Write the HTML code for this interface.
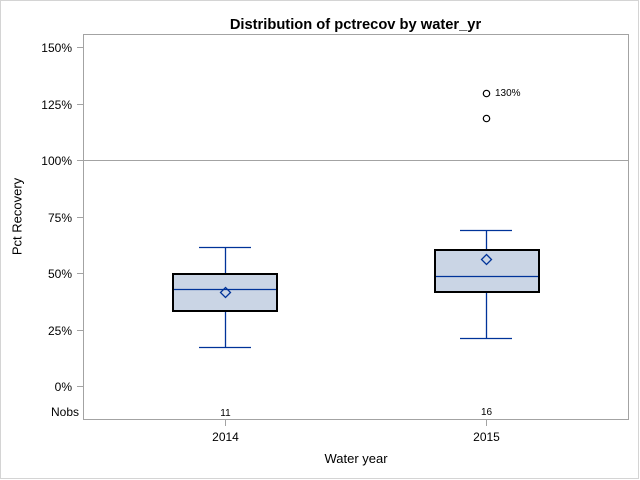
<!DOCTYPE html>
<html>
<head>
<meta charset="utf-8">
<style>
html,body{margin:0;padding:0;background:#fff;}
svg{display:block;}
text{font-family:"Liberation Sans",Arial,sans-serif;fill:#000;}
</style>
</head>
<body>
<svg width="640" height="480" viewBox="0 0 640 480" xmlns="http://www.w3.org/2000/svg">
  <rect x="0" y="0" width="640" height="480" fill="#fff"/>
  <rect x="0.5" y="0.5" width="638" height="478" fill="none" stroke="#d4d4d4" stroke-width="1"/>

  <!-- Title -->
  <text x="355.5" y="29" text-anchor="middle" font-size="14.7" font-weight="bold">Distribution of pctrecov by water_yr</text>

  <!-- Plot frame -->
  <rect x="83.5" y="34.5" width="545" height="385" fill="none" stroke="#a3a3a3" stroke-width="1"/>

  <!-- Reference line 100% -->
  <line x1="84" y1="160.5" x2="628" y2="160.5" stroke="#a3a3a3" stroke-width="1"/>

  <!-- Y ticks -->
  <g stroke="#a3a3a3" stroke-width="1">
    <line x1="77" y1="47.5" x2="83" y2="47.5"/>
    <line x1="77" y1="104.5" x2="83" y2="104.5"/>
    <line x1="77" y1="160.5" x2="83" y2="160.5"/>
    <line x1="77" y1="217.5" x2="83" y2="217.5"/>
    <line x1="77" y1="273.5" x2="83" y2="273.5"/>
    <line x1="77" y1="330.5" x2="83" y2="330.5"/>
    <line x1="77" y1="386.5" x2="83" y2="386.5"/>
  </g>
  <g font-size="12" text-anchor="end">
    <text x="72" y="52">150%</text>
    <text x="72" y="109">125%</text>
    <text x="72" y="165">100%</text>
    <text x="72" y="222">75%</text>
    <text x="72" y="278">50%</text>
    <text x="72" y="335">25%</text>
    <text x="72" y="391">0%</text>
    <text x="79" y="416">Nobs</text>
  </g>

  <!-- Y axis label -->
  <text transform="translate(21.5,216.5) rotate(-90)" text-anchor="middle" font-size="13">Pct Recovery</text>

  <!-- X ticks -->
  <g stroke="#a3a3a3" stroke-width="1">
    <line x1="225.5" y1="420" x2="225.5" y2="426"/>
    <line x1="486.5" y1="420" x2="486.5" y2="426"/>
  </g>
  <g font-size="12" text-anchor="middle">
    <text x="225.5" y="441">2014</text>
    <text x="486.5" y="441">2015</text>
  </g>
  <text x="356" y="463" text-anchor="middle" font-size="13">Water year</text>

  <!-- Nobs values -->
  <g font-size="10" text-anchor="middle">
    <text x="225.5" y="416">11</text>
    <text x="486.5" y="415">16</text>
  </g>

  <!-- 2014 box -->
  <g stroke="#003399" stroke-width="1.3" fill="none">
    <line x1="225.5" y1="247.5" x2="225.5" y2="273"/>
    <line x1="225.5" y1="311" x2="225.5" y2="347.5"/>
    <line x1="199" y1="247.5" x2="251" y2="247.5"/>
    <line x1="199" y1="347.5" x2="251" y2="347.5"/>
  </g>
  <rect x="173" y="274" width="104" height="37" fill="#cad5e5" stroke="#000" stroke-width="2"/>
  <line x1="174" y1="289.5" x2="276" y2="289.5" stroke="#003399" stroke-width="1.3"/>
  <path d="M225.5 287.5 L230.5 292.5 L225.5 297.5 L220.5 292.5 Z" fill="none" stroke="#003399" stroke-width="1.3"/>

  <!-- 2015 box -->
  <g stroke="#003399" stroke-width="1.3" fill="none">
    <line x1="486.5" y1="230.5" x2="486.5" y2="249"/>
    <line x1="486.5" y1="292" x2="486.5" y2="338.5"/>
    <line x1="460" y1="230.5" x2="512" y2="230.5"/>
    <line x1="460" y1="338.5" x2="512" y2="338.5"/>
  </g>
  <rect x="435" y="250" width="104" height="42" fill="#cad5e5" stroke="#000" stroke-width="2"/>
  <line x1="436" y1="276.5" x2="538" y2="276.5" stroke="#003399" stroke-width="1.3"/>
  <path d="M486.5 254.5 L491.5 259.5 L486.5 264.5 L481.5 259.5 Z" fill="none" stroke="#003399" stroke-width="1.3"/>

  <!-- Outliers -->
  <circle cx="486.5" cy="93.5" r="3.2" fill="none" stroke="#000" stroke-width="1.2"/>
  <circle cx="486.5" cy="118.5" r="3.2" fill="none" stroke="#000" stroke-width="1.2"/>
  <text x="495" y="96" font-size="10">130%</text>
</svg>
</body>
</html>
